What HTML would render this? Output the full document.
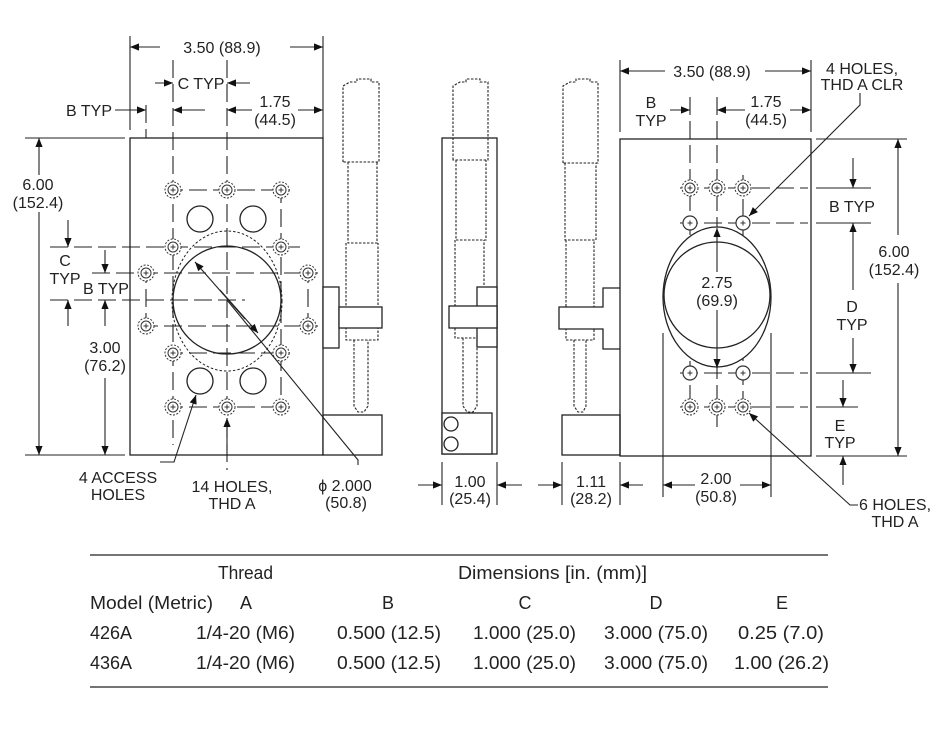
<!DOCTYPE html>
<html><head><meta charset="utf-8"><style>
html,body{margin:0;padding:0;background:#fff;}
svg{display:block;}
text{font-family:"Liberation Sans",Arial,sans-serif;font-size:16px;fill:#222;}
.c{text-anchor:middle;}
.r{text-anchor:end;}
.t{font-size:18px;}
</style></head><body>
<svg width="952" height="733" viewBox="0 0 952 733" xmlns="http://www.w3.org/2000/svg">
<defs>
<marker id="a" viewBox="0 0 10 10" refX="10" refY="5" markerWidth="14" markerHeight="9" markerUnits="userSpaceOnUse" orient="auto"><path d="M0,1 L10,5 L0,9 z" fill="#111"/></marker>
<g id="h"><circle r="8" fill="#fff" stroke="#333" stroke-width="1" stroke-dasharray="2 1.5"/><circle r="5" fill="none" stroke="#333" stroke-width="1"/><path d="M-2.5,0H2.5M0,-2.5V2.5" stroke="#333" stroke-width="1"/></g>
<g id="k"><circle r="7" fill="#fff" stroke="#333" stroke-width="1.2"/><path d="M-2.5,0H2.5M0,-2.5V2.5" stroke="#333" stroke-width="1"/></g>
</defs>
<g fill="none" stroke="#222" stroke-width="1.3">
<!-- LEFT VIEW -->
<rect x="130" y="138" width="193" height="317"/>
<g stroke-dasharray="18 6" stroke-width="1.1">
<path d="M173,60V445 M227,60V470 M281,185V412 M146,105V138 M146,265V335 M308,265V335"/>
<path d="M50,247H300 M92,273H318 M50,300H245 M140,326H318 M165,190H290 M165,353H290 M165,407H290"/>
</g>
<ellipse cx="227" cy="301" rx="55" ry="70" stroke-dasharray="2.5 2" stroke-width="1"/>
<circle cx="227" cy="300" r="54" fill="none"/>
<circle cx="200" cy="219" r="13"/><circle cx="253" cy="219" r="13"/>
<circle cx="200" cy="381" r="13"/><circle cx="253" cy="381" r="13"/>
<!-- micrometer left -->
<g stroke-dasharray="2.5 1.5" stroke-width="1.1">
<path d="M343,162V86L350,82H357V79H371V82H379V162Z"/>
<path d="M348,162V243H377V162"/>
<path d="M346,243V340H378V243"/>
<path d="M354,340V406L358,412H364L368,406V340"/>
</g>
<rect x="323" y="287" width="16" height="61" fill="#fff"/>
<rect x="339" y="307" width="43" height="21" fill="#fff"/>
<rect x="323" y="415" width="59" height="40" fill="#fff"/>
<!-- SIDE VIEW 1 -->
<rect x="442" y="138" width="55" height="316"/>
<g stroke-dasharray="2.5 1.5" stroke-width="1.1">
<path d="M453,160V86L460,82H466V79H480V82H488V160Z"/>
<path d="M456,160V240H486V160"/>
<path d="M455,240V338H484V240"/>
<path d="M463,338V406L467,412H473L477,406V338"/>
</g>
<rect x="477" y="287" width="20" height="60" fill="#fff"/>
<rect x="449" y="306" width="48" height="22" fill="#fff"/>
<rect x="442" y="413" width="50" height="41" fill="#fff"/>
<circle cx="451" cy="424" r="7"/><circle cx="451" cy="444" r="7"/>
<!-- SIDE VIEW 2 -->
<g stroke-dasharray="2.5 1.5" stroke-width="1.1">
<path d="M563,163V86L570,82H576V79H590V82H598V163Z"/>
<path d="M565,163V240H596V163"/>
<path d="M566,240V340H594V240"/>
<path d="M574,340V406L578,412H583L586,406V340"/>
</g>
<path d="M620,288H603V307H559V329H603V349H620" fill="#fff"/>
<rect x="562" y="415" width="58" height="40" fill="#fff"/>
<!-- RIGHT VIEW -->
<rect x="620" y="139" width="191" height="317"/>
<g stroke-dasharray="18 6" stroke-width="1.1">
<path d="M690,97V415 M717,97V430 M743,175V415"/>
<path d="M680,188H808 M680,223H808 M680,373H808 M680,407H808"/>
</g>
<path d="M663,333V497 M771,333V497" stroke-width="1.1"/>
<ellipse cx="717" cy="297" rx="54" ry="70" fill="#fff"/>
<circle cx="717" cy="295" r="53"/>
</g>
<!-- holes -->
<g>
<use href="#h" x="173" y="190"/><use href="#h" x="227" y="190"/><use href="#h" x="281" y="190"/>
<use href="#h" x="173" y="247"/><use href="#h" x="281" y="247"/>
<use href="#h" x="146" y="273"/><use href="#h" x="308" y="273"/>
<use href="#h" x="146" y="326"/><use href="#h" x="308" y="326"/>
<use href="#h" x="173" y="353"/><use href="#h" x="281" y="353"/>
<use href="#h" x="173" y="407"/><use href="#h" x="227" y="407"/><use href="#h" x="281" y="407"/>
<use href="#h" x="690" y="188"/><use href="#h" x="717" y="188"/><use href="#h" x="743" y="188"/>
<use href="#h" x="690" y="407"/><use href="#h" x="717" y="407"/><use href="#h" x="743" y="407"/>
<use href="#k" x="690" y="223"/><use href="#k" x="743" y="223"/>
<use href="#k" x="690" y="373"/><use href="#k" x="743" y="373"/>
</g>
<!-- dimension lines -->
<g fill="none" stroke="#222" stroke-width="1.1">
<path d="M130,36V130 M323,36V138"/>
<path d="M160,47H130" marker-end="url(#a)"/><path d="M290,47H323" marker-end="url(#a)"/>
<path d="M155,83H173" marker-end="url(#a)"/><path d="M250,83H227" marker-end="url(#a)"/>
<path d="M115,110H146" marker-end="url(#a)"/><path d="M205,110H173" marker-end="url(#a)"/>
<path d="M252,110H227" marker-end="url(#a)"/><path d="M298,110H323" marker-end="url(#a)"/>
<path d="M25,138H125 M25,455H125"/>
<path d="M39,175V138" marker-end="url(#a)"/><path d="M39,212V455" marker-end="url(#a)"/>
<path d="M68,220V247" marker-end="url(#a)"/><path d="M68,326V300" marker-end="url(#a)"/>
<path d="M105,250V273" marker-end="url(#a)"/><path d="M105,326V300" marker-end="url(#a)"/>
<path d="M105,378V455" marker-end="url(#a)"/>
<path d="M358,465V460L227,300" /><path d="M245,319L195,262" marker-end="url(#a)"/><path d="M220,290L258,333" marker-end="url(#a)"/>
<path d="M160,462H174L196,395" marker-end="url(#a)"/>
<path d="M227,450V418" marker-end="url(#a)"/>
<path d="M442,462V505 M497,462V505 M562,462V505 M620,462V505"/>
<path d="M418,485H442" marker-end="url(#a)"/><path d="M522,485H497" marker-end="url(#a)"/>
<path d="M538,485H562" marker-end="url(#a)"/><path d="M643,485H620" marker-end="url(#a)"/>
<path d="M620,60V132 M811,60V132"/>
<path d="M665,71H620" marker-end="url(#a)"/><path d="M765,71H811" marker-end="url(#a)"/>
<path d="M670,110H690" marker-end="url(#a)"/><path d="M745,110H717" marker-end="url(#a)"/><path d="M790,110H811" marker-end="url(#a)"/>
<path d="M816,139H907 M816,456H907 M816,188H871 M816,223H871 M816,373H871 M816,407H858"/>
<path d="M898,235V139" marker-end="url(#a)"/><path d="M898,283V456" marker-end="url(#a)"/>
<path d="M853,158V188" marker-end="url(#a)"/><path d="M853,290V223" marker-end="url(#a)"/><path d="M853,338V373" marker-end="url(#a)"/>
<path d="M843,380V407" marker-end="url(#a)"/><path d="M843,485V456" marker-end="url(#a)"/>
<path d="M717,272V228" marker-end="url(#a)"/><path d="M717,310V368" marker-end="url(#a)"/>
<path d="M695,485H663" marker-end="url(#a)"/><path d="M740,485H771" marker-end="url(#a)"/>
<path d="M860,93V105L749,216" marker-end="url(#a)"/>
<path d="M858,505H850L749,413" marker-end="url(#a)"/>
<path d="M90,555H828 M90,687H828" stroke-width="1.2"/>
</g>
<!-- labels -->
<g>
<text x="222" y="53" class="c">3.50 (88.9)</text>
<text x="201" y="89" class="c">C TYP</text>
<text x="112" y="116" class="r">B TYP</text>
<text x="275" y="107" class="c">1.75</text><text x="275" y="125" class="c">(44.5)</text>
<text x="38" y="190" class="c">6.00</text><text x="38" y="208" class="c">(152.4)</text>
<text x="65" y="266" class="c">C</text><text x="65" y="284" class="c">TYP</text>
<text x="106" y="294" class="c">B TYP</text>
<text x="105" y="353" class="c">3.00</text><text x="105" y="371" class="c">(76.2)</text>
<text x="118" y="483" class="c">4 ACCESS</text><text x="118" y="500" class="c">HOLES</text>
<text x="232" y="492" class="c">14 HOLES,</text><text x="232" y="509" class="c">THD A</text>
<text x="345" y="491" class="c">ϕ 2.000</text><text x="346" y="508" class="c">(50.8)</text>
<text x="470" y="487" class="c">1.00</text><text x="470" y="504" class="c">(25.4)</text>
<text x="591" y="487" class="c">1.11</text><text x="591" y="504" class="c">(28.2)</text>
<text x="716" y="484" class="c">2.00</text><text x="716" y="502" class="c">(50.8)</text>
<text x="712" y="77" class="c">3.50 (88.9)</text>
<text x="862" y="74" class="c">4 HOLES,</text><text x="862" y="90" class="c">THD A CLR</text>
<text x="651" y="108" class="c">B</text><text x="651" y="126" class="c">TYP</text>
<text x="766" y="107" class="c">1.75</text><text x="766" y="125" class="c">(44.5)</text>
<text x="852" y="212" class="c">B TYP</text>
<text x="894" y="257" class="c">6.00</text><text x="894" y="275" class="c">(152.4)</text>
<text x="717" y="288" class="c">2.75</text><text x="717" y="306" class="c">(69.9)</text>
<text x="852" y="312" class="c">D</text><text x="852" y="330" class="c">TYP</text>
<text x="840" y="431" class="c">E</text><text x="840" y="448" class="c">TYP</text>
<text x="895" y="510" class="c">6 HOLES,</text><text x="895" y="527" class="c">THD A</text>
</g>
<g class="t">
<text class="t" x="218" y="579" textLength="55" lengthAdjust="spacingAndGlyphs">Thread</text>
<text class="t" x="458" y="579" textLength="189" lengthAdjust="spacingAndGlyphs">Dimensions [in. (mm)]</text>
<text class="t" x="90" y="609" textLength="123" lengthAdjust="spacingAndGlyphs">Model (Metric)</text>
<text class="t c" x="246" y="609">A</text>
<text class="t c" x="388" y="609">B</text>
<text class="t c" x="525" y="609">C</text>
<text class="t c" x="656" y="609">D</text>
<text class="t c" x="782" y="609">E</text>
<text class="t" x="90" y="639" textLength="42" lengthAdjust="spacingAndGlyphs">426A</text>
<text class="t" x="196" y="639" textLength="99" lengthAdjust="spacingAndGlyphs">1/4-20 (M6)</text>
<text class="t" x="337" y="639" textLength="104" lengthAdjust="spacingAndGlyphs">0.500 (12.5)</text>
<text class="t" x="473" y="639" textLength="103" lengthAdjust="spacingAndGlyphs">1.000 (25.0)</text>
<text class="t" x="604" y="639" textLength="104" lengthAdjust="spacingAndGlyphs">3.000 (75.0)</text>
<text class="t" x="738" y="639" textLength="86" lengthAdjust="spacingAndGlyphs">0.25 (7.0)</text>
<text class="t" x="90" y="669" textLength="42" lengthAdjust="spacingAndGlyphs">436A</text>
<text class="t" x="196" y="669" textLength="99" lengthAdjust="spacingAndGlyphs">1/4-20 (M6)</text>
<text class="t" x="337" y="669" textLength="104" lengthAdjust="spacingAndGlyphs">0.500 (12.5)</text>
<text class="t" x="473" y="669" textLength="103" lengthAdjust="spacingAndGlyphs">1.000 (25.0)</text>
<text class="t" x="604" y="669" textLength="104" lengthAdjust="spacingAndGlyphs">3.000 (75.0)</text>
<text class="t" x="734" y="669" textLength="95" lengthAdjust="spacingAndGlyphs">1.00 (26.2)</text>
</g>
</svg>
</body></html>
